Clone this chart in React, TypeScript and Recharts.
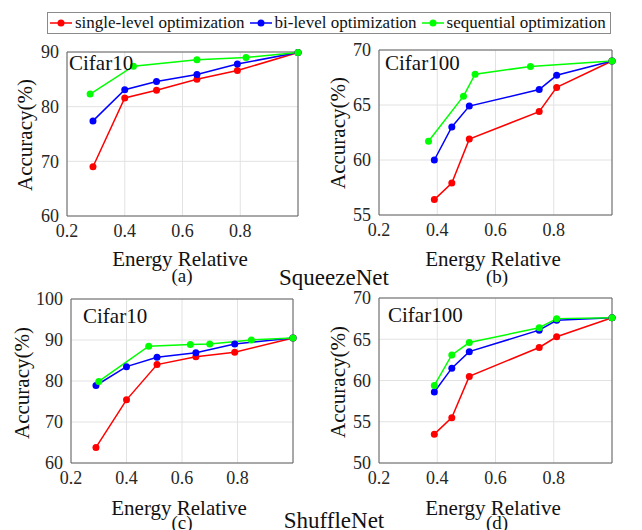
import React from 'react';
import { LineChart, Line, XAxis, YAxis, CartesianGrid, ReferenceArea } from 'recharts';

const FONT = 'Liberation Serif, Tinos, DejaVu Serif, serif';

const SERIES = [
  { key: 'single', name: 'single-level optimization', color: '#ff0000' },
  { key: 'bi', name: 'bi-level optimization', color: '#0000ff' },
  { key: 'seq', name: 'sequential optimization', color: '#00ff00' },
];

const X_TICKS = [0.2, 0.4, 0.6, 0.8, 1.0];

// (a) SqueezeNet / Cifar10
const aSingleX = [0.29, 0.4, 0.51, 0.65, 0.79, 1.0];
const aSingleY = [69.0, 81.6, 83.0, 85.0, 86.6, 89.9];
const aBiX = [0.29, 0.4, 0.51, 0.65, 0.79, 1.0];
const aBiY = [77.4, 83.1, 84.6, 85.9, 87.8, 89.9];
const aSeqX = [0.28, 0.43, 0.65, 0.82, 1.0];
const aSeqY = [82.3, 87.4, 88.6, 89.0, 89.9];
const aTicks = [60, 70, 80, 90];

// (b) SqueezeNet / Cifar100
const bSingleX = [0.39, 0.45, 0.51, 0.75, 0.81, 1.0];
const bSingleY = [56.4, 57.9, 61.9, 64.4, 66.6, 69.0];
const bBiX = [0.39, 0.45, 0.51, 0.75, 0.81, 1.0];
const bBiY = [60.0, 63.0, 64.9, 66.4, 67.7, 69.0];
const bSeqX = [0.37, 0.49, 0.53, 0.72, 1.0];
const bSeqY = [61.7, 65.8, 67.8, 68.5, 69.0];
const bTicks = [55, 60, 65, 70];

// (c) ShuffleNet / Cifar10
const cSingleX = [0.29, 0.4, 0.51, 0.65, 0.79, 1.0];
const cSingleY = [63.8, 75.4, 84.0, 85.9, 87.0, 90.5];
const cBiX = [0.29, 0.4, 0.51, 0.65, 0.79, 1.0];
const cBiY = [78.9, 83.5, 85.8, 86.9, 89.0, 90.5];
const cSeqX = [0.3, 0.48, 0.63, 0.7, 0.85, 1.0];
const cSeqY = [79.9, 88.5, 88.9, 89.0, 90.0, 90.5];
const cTicks = [60, 70, 80, 90, 100];

// (d) ShuffleNet / Cifar100
const dSingleX = [0.39, 0.45, 0.51, 0.75, 0.81, 1.0];
const dSingleY = [53.5, 55.5, 60.5, 64.0, 65.3, 67.6];
const dBiX = [0.39, 0.45, 0.51, 0.75, 0.81, 1.0];
const dBiY = [58.6, 61.5, 63.5, 66.1, 67.3, 67.6];
const dSeqX = [0.39, 0.45, 0.51, 0.75, 0.81, 1.0];
const dSeqY = [59.4, 63.1, 64.6, 66.4, 67.5, 67.6];
const dTicks = [50, 55, 60, 65, 70];

const zip = (xs: number[], ys: number[]) => xs.map((x, i) => ({ x, y: ys[i] }));

type PanelProps = {
  left: number;
  top: number;
  right: number;
  bottom: number;
  yTicks: number[];
  lines: { x: number[]; y: number[] }[];
};

const tickStyle = { fontSize: 18, fill: '#262626', fontFamily: FONT };

function Panel({ left, top, right, bottom, yTicks, lines }: PanelProps) {
  const yw = 60;
  const mt = 10;
  const mr = 10;
  const xh = 30;
  const mb = 10;
  const w = right - left + yw + mr;
  const h = bottom - top + mt + xh + mb;
  const yMin = yTicks[0];
  const yMax = yTicks[yTicks.length - 1];
  return (
    <div style={{ position: 'absolute', left: left - yw, top: top - mt }}>
      <LineChart width={w} height={h} margin={{ top: mt, right: mr, bottom: mb, left: 0 }}>
        <CartesianGrid stroke="#e2e2e2" />
        <XAxis
          type="number"
          dataKey="x"
          domain={[0.2, 1]}
          ticks={X_TICKS}
          tickFormatter={(v: number) => (v >= 1 ? '' : v.toFixed(1))}
          tickLine={false}
          axisLine={false}
          height={xh}
          tick={tickStyle}
          interval={0}
        />
        <YAxis
          type="number"
          domain={[yMin, yMax]}
          ticks={yTicks}
          width={yw}
          tickLine={false}
          axisLine={false}
          tick={tickStyle}
          interval={0}
        />
        <ReferenceArea
          x1={0.2}
          x2={1}
          y1={yMin}
          y2={yMax}
          fill="none"
          fillOpacity={0}
          stroke="#606060"
          strokeWidth={1}
        />
        {SERIES.map((s, i) => (
          <Line
            key={s.key}
            data={zip(lines[i].x, lines[i].y)}
            dataKey="y"
            stroke={s.color}
            strokeWidth={1.5}
            dot={{ r: 3.5, fill: s.color, stroke: s.color, strokeWidth: 0 }}
            isAnimationActive={false}
          />
        ))}
      </LineChart>
    </div>
  );
}

function Legend() {
  return (
    <div
      style={{
        position: 'absolute',
        left: 47,
        top: 12,
        width: 564,
        height: 22,
        boxSizing: 'border-box',
        border: '1px solid #8a8a8a',
        display: 'flex',
        alignItems: 'center',
        paddingLeft: 2,
        fontFamily: FONT,
        fontSize: 17,
        color: '#111',
        whiteSpace: 'nowrap',
        background: '#fff',
      }}
    >
      {SERIES.map((s) => (
        <div key={s.key} style={{ display: 'flex', alignItems: 'center', marginRight: 5 }}>
          <svg width={22} height={10}>
            <line x1={0} y1={5} x2={22} y2={5} stroke={s.color} strokeWidth={1.5} />
            <circle cx={11} cy={5} r={3.5} fill={s.color} />
          </svg>
          <span style={{ marginLeft: 3 }}>{s.name}</span>
        </div>
      ))}
    </div>
  );
}

const textProps = { fontFamily: FONT, fill: '#111' };

export default function App() {
  return (
    <div
      style={{
        position: 'absolute',
        left: 0,
        top: 0,
        width: 642,
        height: 530,
        background: '#fff',
        overflow: 'hidden',
      }}
    >
      <Legend />
      <Panel
        left={67}
        top={52}
        right={298}
        bottom={216}
        yTicks={aTicks}
        lines={[
          { x: aSingleX, y: aSingleY },
          { x: aBiX, y: aBiY },
          { x: aSeqX, y: aSeqY },
        ]}
      />
      <Panel
        left={379}
        top={50}
        right={612}
        bottom={215}
        yTicks={bTicks}
        lines={[
          { x: bSingleX, y: bSingleY },
          { x: bBiX, y: bBiY },
          { x: bSeqX, y: bSeqY },
        ]}
      />
      <Panel
        left={71}
        top={299}
        right={293}
        bottom={463}
        yTicks={cTicks}
        lines={[
          { x: cSingleX, y: cSingleY },
          { x: cBiX, y: cBiY },
          { x: cSeqX, y: cSeqY },
        ]}
      />
      <Panel
        left={379}
        top={298}
        right={612}
        bottom={463}
        yTicks={dTicks}
        lines={[
          { x: dSingleX, y: dSingleY },
          { x: dBiX, y: dBiY },
          { x: dSeqX, y: dSeqY },
        ]}
      />
      <svg
        width={642}
        height={530}
        style={{ position: 'absolute', left: 0, top: 0, pointerEvents: 'none' }}
      >
        {/* dataset labels inside plots */}
        <text x={69} y={70} fontSize={21} {...textProps}>Cifar10</text>
        <text x={385} y={70} fontSize={21} {...textProps}>Cifar100</text>
        <text x={83} y={323} fontSize={21} {...textProps}>Cifar10</text>
        <text x={388} y={322} fontSize={21} {...textProps}>Cifar100</text>

        {/* x titles */}
        <text x={180} y={266} fontSize={21} textAnchor="middle" {...textProps}>Energy Relative</text>
        <text x={493} y={266} fontSize={21} textAnchor="middle" {...textProps}>Energy Relative</text>
        <text x={179} y={515} fontSize={21} textAnchor="middle" {...textProps}>Energy Relative</text>
        <text x={493} y={515} fontSize={21} textAnchor="middle" {...textProps}>Energy Relative</text>

        {/* y titles */}
        <text x={25} y={135} fontSize={21} textAnchor="middle" dominantBaseline="central" transform="rotate(-90 25 135)" {...textProps}>Accuracy(%)</text>
        <text x={338} y={133} fontSize={21} textAnchor="middle" dominantBaseline="central" transform="rotate(-90 338 133)" {...textProps}>Accuracy(%)</text>
        <text x={22} y={383} fontSize={21} textAnchor="middle" dominantBaseline="central" transform="rotate(-90 22 383)" {...textProps}>Accuracy(%)</text>
        <text x={338} y={382} fontSize={21} textAnchor="middle" dominantBaseline="central" transform="rotate(-90 338 382)" {...textProps}>Accuracy(%)</text>

        {/* panel letters */}
        <text x={182} y={282} fontSize={19} textAnchor="middle" {...textProps}>(a)</text>
        <text x={497} y={283} fontSize={19} textAnchor="middle" {...textProps}>(b)</text>
        <text x={182} y={529} fontSize={19} textAnchor="middle" {...textProps}>(c)</text>
        <text x={497} y={529} fontSize={19} textAnchor="middle" {...textProps}>(d)</text>

        {/* network names */}
        <text x={334} y={285} fontSize={23} textAnchor="middle" {...textProps}>SqueezeNet</text>
        <text x={334} y={528} fontSize={23} textAnchor="middle" {...textProps}>ShuffleNet</text>
      </svg>
    </div>
  );
}
